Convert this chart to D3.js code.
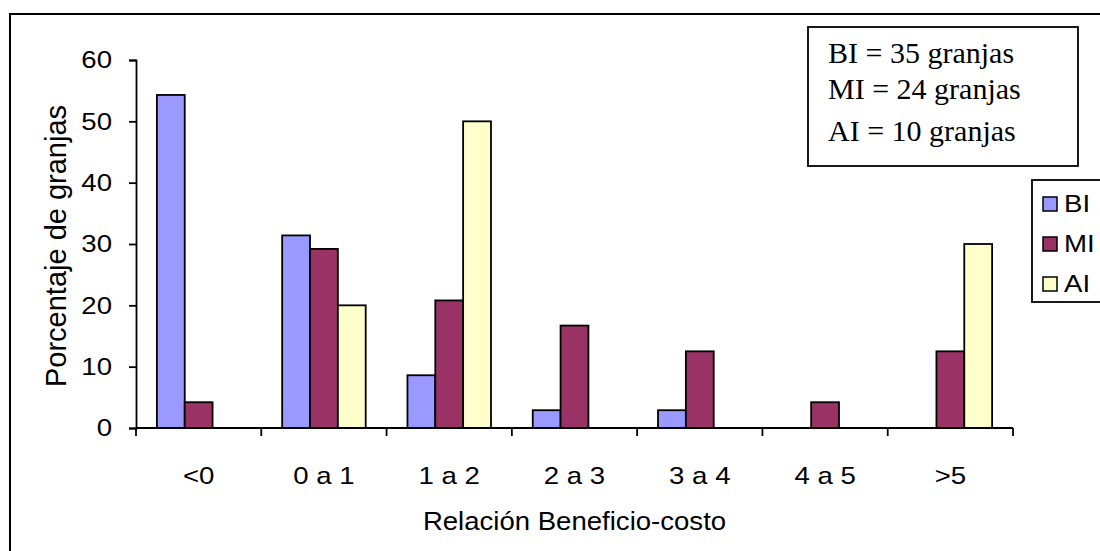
<!DOCTYPE html>
<html><head><meta charset="utf-8">
<script src="https://cdn.jsdelivr.net/npm/d3@7"></script>
<style>body{margin:0;background:#fff}svg{display:block}</style>
</head><body>
<svg id="c" width="1100" height="551"></svg>
<script>
const categories = ["<0","0 a 1","1 a 2","2 a 3","3 a 4","4 a 5",">5"];
const seriesNames = ["BI","MI","AI"];
const valuesBI = [54.3,31.4,8.6,2.9,2.9,0,0];
const valuesMI = [4.2,29.2,20.8,16.7,12.5,4.2,12.5];
const valuesAI = [0,20,50,0,0,0,30];
const yTicks = [0,10,20,30,40,50,60];
const colors = ["#9999FF","#993366","#FFFFCC"];
const noteLines = ["BI = 35 granjas","MI = 24 granjas","AI = 10 granjas"];

const SANS = "Liberation Sans, Arial, sans-serif";
const SX = 1.15;
const svg = d3.select("#c");
const m = {left:136, right:1013, top:60, bottom:428};
const series = [valuesBI, valuesMI, valuesAI];

// outer border
svg.append("rect").attr("x",10).attr("y",14).attr("width",1200).attr("height",700)
  .attr("fill","none").attr("stroke","#000").attr("stroke-width",2);

const x = d3.scaleBand().domain(categories).range([m.left,m.right]).paddingInner(0).paddingOuter(0);
const inner = d3.scaleBand().domain(seriesNames).range([0,x.bandwidth()]).paddingInner(0).paddingOuter(0.75);
const y = d3.scaleLinear().domain([0,60]).range([m.bottom,m.top]);

// bars
seriesNames.forEach((s,i)=>{
  svg.append("g").selectAll("rect").data(categories.map((c,j)=>({c,v:series[i][j]})).filter(d=>d.v>0))
    .join("rect")
    .attr("x",d=>x(d.c)+inner(s))
    .attr("y",d=>y(d.v))
    .attr("width",inner.bandwidth())
    .attr("height",d=>y(0)-y(d.v))
    .attr("fill",colors[i]).attr("stroke","#000").attr("stroke-width",1.8);
});

// y axis
const ya = svg.append("g").attr("transform",`translate(${m.left},0)`)
  .call(d3.axisLeft(y).tickValues(yTicks).tickSize(7));
ya.selectAll("text").attr("font-family",SANS).attr("font-size",24).attr("fill","#000")
  .attr("x",-24/SX).attr("transform",`scale(${SX},1)`);
ya.selectAll("line,path").attr("stroke","#000").attr("stroke-width",1.8);

// x axis
const xa = svg.append("g").attr("transform",`translate(0,${m.bottom})`)
  .call(d3.axisBottom(x).tickSize(0).tickPadding(39));
xa.select("path").remove();
xa.selectAll("text").attr("font-family",SANS).attr("font-size",24).attr("fill","#000")
  .attr("transform",`scale(${SX},1)`);
svg.append("line").attr("x1",m.left).attr("x2",m.right).attr("y1",m.bottom).attr("y2",m.bottom)
  .attr("stroke","#000").attr("stroke-width",1.8);
svg.append("g").selectAll("line").data(categories.concat(["__end"]))
  .join("line")
  .attr("x1",(d,i)=>m.left+i*x.bandwidth()).attr("x2",(d,i)=>m.left+i*x.bandwidth())
  .attr("y1",m.bottom).attr("y2",m.bottom+8).attr("stroke","#000").attr("stroke-width",1.8);

// axis titles
svg.append("text").attr("transform",`translate(${(m.left+m.right)/2},530) scale(1.06,1)`).attr("text-anchor","middle")
  .attr("font-family",SANS).attr("font-size",26).text("Relación Beneficio-costo");
svg.append("text").attr("transform",`translate(66,246) rotate(-90)`).attr("text-anchor","middle")
  .attr("font-family",SANS).attr("font-size",29).text("Porcentaje de granjas");

// note box
svg.append("rect").attr("x",808).attr("y",27).attr("width",270).attr("height",139)
  .attr("fill","#fff").attr("stroke","#000").attr("stroke-width",1.8);
svg.append("g").selectAll("text").data(noteLines).join("text")
  .attr("x",828).attr("y",(d,i)=>[63,99,141][i])
  .attr("font-family","Liberation Serif, Times New Roman, serif").attr("font-size",30).text(d=>d);

// legend
svg.append("rect").attr("x",1032).attr("y",180).attr("width",100).attr("height",122)
  .attr("fill","#fff").attr("stroke","#000").attr("stroke-width",1.8);
const lg = svg.append("g").selectAll("g").data(seriesNames).join("g")
  .attr("transform",(d,i)=>`translate(1043,${212+i*40})`);
lg.append("rect").attr("x",0).attr("y",-15).attr("width",14).attr("height",14)
  .attr("fill",(d,i)=>colors[i]).attr("stroke","#000").attr("stroke-width",1.5);
lg.append("text").attr("transform",`translate(21,0) scale(${SX},1)`).attr("font-family",SANS)
  .attr("font-size",24).text(d=>d);
</script>
</body></html>
